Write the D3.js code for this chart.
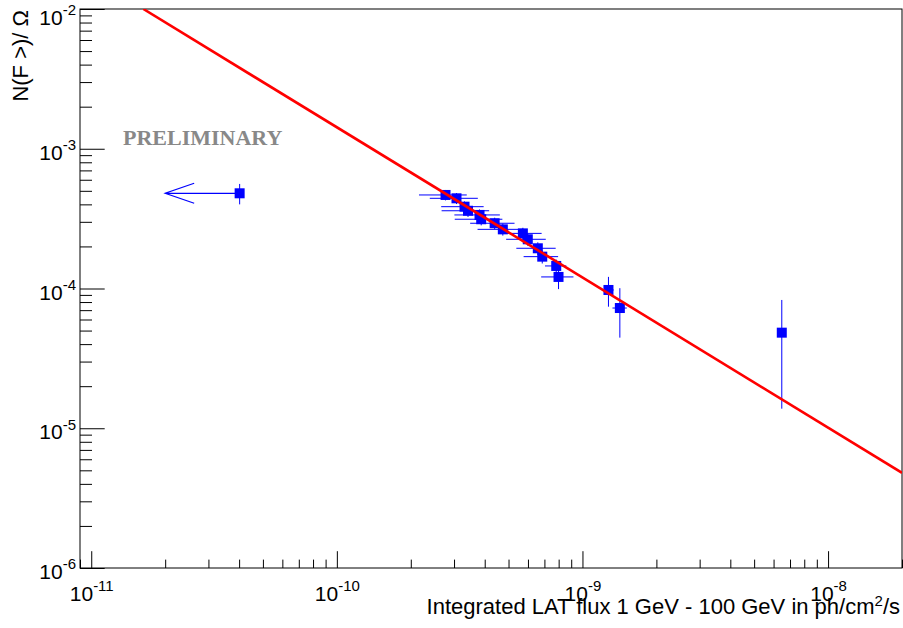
<!DOCTYPE html>
<html>
<head>
<meta charset="utf-8">
<script src="https://cdn.jsdelivr.net/npm/d3@7"></script>
<style>
  body { margin: 0; background: #fff; }
  text { font-family: 'Liberation Sans', Arial, sans-serif; }
  text.stamp { font-family: 'Liberation Serif', 'Times New Roman', serif; }
</style>
</head>
<body>
<div id="chart"></div>
<script>
// measured sources: integrated flux (ph/cm2/s) and N(>F)/Omega
let flux = [2.77e-10, 3.07e-10, 3.31e-10, 3.42e-10, 3.81e-10, 3.87e-10, 4.39e-10,
  4.74e-10, 5.72e-10, 5.99e-10, 6.58e-10, 6.86e-10, 7.82e-10, 7.99e-10,
  1.276e-9, 1.42e-9, 6.48e-9]
let density = [4.67e-4, 4.42e-4, 3.85e-4, 3.60e-4, 3.36e-4, 3.13e-4, 2.93e-4,
  2.65e-4, 2.48e-4, 2.25e-4, 1.94e-4, 1.69e-4, 1.45e-4, 1.21e-4,
  9.76e-5, 7.25e-5, 4.83e-5]
let fluxErr = [6.1e-11, 6.8e-11, 6.5e-11, 7.5e-11, 8.0e-11, 8.5e-11, 9.0e-11,
  1.0e-10, 1.1e-10, 1.1e-10, 1.2e-10, 1.1e-10, 7.8e-11, 1.2e-10,
  6.5e-11, 9.5e-11, 0]
let densityErr = [4.0e-5, 4.0e-5, 3.5e-5, 3.5e-5, 3.2e-5, 3.0e-5, 2.8e-5,
  2.6e-5, 2.4e-5, 2.3e-5, 2.0e-5, 1.8e-5, 1.6e-5, 2.2e-5,
  2.35e-5, 2.8e-5, 3.45e-5]

// upper limit point
let ulFlux = [4.02e-11]
let ulDensity = [4.8e-4]
let ulDensityErr = [8.0e-5]
let ulArrowTip = [2.0e-11]

// power-law fit, end points of the straight line in log-log
let fitFlux = [1.63e-11, 2.0e-8]
let fitDensity = [1.0e-2, 4.8e-6]

let xMajor = [1e-11, 1e-10, 1e-9, 1e-8]
let xMajorExp = ['-11', '-10', '-9', '-8']
let yMajor = [1e-6, 1e-5, 1e-4, 1e-3, 1e-2]
let yMajorExp = ['-6', '-5', '-4', '-3', '-2']

let margin = { top: 9, left: 80, right: 1, bottom: 60 }
let width = 903 - margin.left - margin.right
let height = 628 - margin.top - margin.bottom

let svg = d3
  .select('#chart')
  .append('svg')
  .attr('width', 903)
  .attr('height', 628)
  .append('g')
  .attr('transform', 'translate(' + margin.left + ',' + margin.top + ')')

let xPositionScale = d3.scaleLog().domain([9e-12, 2e-8]).range([0, width])
let yPositionScale = d3.scaleLog().domain([1e-6, 1e-2]).range([height, 0])

svg
  .append('clipPath')
  .attr('id', 'frame-clip')
  .append('rect')
  .attr('width', width)
  .attr('height', height)

// minor ticks
let xMinor = xPositionScale.ticks().filter(d => xMajor.indexOf(d) === -1)
let yMinor = yPositionScale.ticks().filter(d => yMajor.indexOf(d) === -1)

svg
  .append('g')
  .attr('class', 'axis x-minor')
  .attr('transform', 'translate(0,' + height + ')')
  .call(d3.axisBottom(xPositionScale).tickValues(xMinor).tickSize(-8.4).tickFormat(''))

svg
  .append('g')
  .attr('class', 'axis y-minor')
  .call(d3.axisLeft(yPositionScale).tickValues(yMinor).tickSize(-12).tickFormat(''))

// major ticks with labels
let xAxis = d3
  .axisBottom(xPositionScale)
  .tickValues(xMajor)
  .tickSize(-16.8)
  .tickPadding(18)
  .tickFormat('')
svg
  .append('g')
  .attr('class', 'axis x-axis')
  .attr('transform', 'translate(0,' + height + ')')
  .call(xAxis)

let yAxis = d3
  .axisLeft(yPositionScale)
  .tickValues(yMajor)
  .tickSize(-24.7)
  .tickPadding(4)
  .tickFormat('')
svg
  .append('g')
  .attr('class', 'axis y-axis')
  .call(yAxis)

svg.selectAll('.axis .domain').remove()
svg.selectAll('.axis line').attr('stroke', '#000')

function powerLabel(sel, exps) {
  sel.each(function(d, i) {
    let t = d3.select(this)
    t.text(null)
      .attr('fill', '#000')
      .attr('font-size', 21)
    t.append('tspan').text('10')
    t.append('tspan')
      .attr('font-size', 15)
      .attr('dy', '-0.65em')
      .text(exps[i])
  })
}
svg.selectAll('.x-axis .tick text').call(powerLabel, xMajorExp).attr('dy', '0.71em')
svg
  .selectAll('.y-axis .tick text')
  .call(powerLabel, yMajorExp)
  .attr('dy', d => (d === 1e-2 ? '0.72em' : '0.5em'))

// frame
svg
  .append('rect')
  .attr('width', width)
  .attr('height', height)
  .attr('fill', 'none')
  .attr('stroke', '#000')
  .attr('stroke-width', 1)

// error bars
let points = flux.map((f, i) => ({
  x: f,
  y: density[i],
  ex: fluxErr[i],
  ey: densityErr[i]
}))

svg
  .selectAll('.x-err')
  .data(points.filter(d => d.ex > 0))
  .enter()
  .append('line')
  .attr('class', 'x-err')
  .attr('x1', d => xPositionScale(d.x - d.ex))
  .attr('x2', d => xPositionScale(d.x + d.ex))
  .attr('y1', d => yPositionScale(d.y))
  .attr('y2', d => yPositionScale(d.y))
  .attr('stroke', '#0000ff')
  .attr('stroke-width', 1)

svg
  .selectAll('.y-err')
  .data(points)
  .enter()
  .append('line')
  .attr('class', 'y-err')
  .attr('x1', d => xPositionScale(d.x))
  .attr('x2', d => xPositionScale(d.x))
  .attr('y1', d => yPositionScale(d.y - d.ey))
  .attr('y2', d => yPositionScale(d.y + d.ey))
  .attr('stroke', '#0000ff')
  .attr('stroke-width', 1)

svg
  .selectAll('.point')
  .data(points)
  .enter()
  .append('rect')
  .attr('class', 'point')
  .attr('x', d => xPositionScale(d.x) - 5)
  .attr('y', d => yPositionScale(d.y) - 5)
  .attr('width', 10)
  .attr('height', 10)
  .attr('fill', '#0000ff')

// upper limit with arrow
let ul = ulFlux.map((f, i) => ({
  x: f,
  y: ulDensity[i],
  ey: ulDensityErr[i],
  tip: ulArrowTip[i]
}))

let ulG = svg
  .selectAll('.upper-limit')
  .data(ul)
  .enter()
  .append('g')
  .attr('class', 'upper-limit')

ulG
  .append('line')
  .attr('x1', d => xPositionScale(d.x))
  .attr('x2', d => xPositionScale(d.x))
  .attr('y1', d => yPositionScale(d.y - d.ey))
  .attr('y2', d => yPositionScale(d.y + d.ey))
  .attr('stroke', '#0000ff')

ulG
  .append('path')
  .attr('d', d => {
    let tx = xPositionScale(d.tip)
    let ty = yPositionScale(d.y)
    return 'M' + xPositionScale(d.x) + ',' + ty + 'L' + tx + ',' + ty +
      'M' + (tx + 29) + ',' + (ty - 10) + 'L' + tx + ',' + ty + 'L' + (tx + 29) + ',' + (ty + 10)
  })
  .attr('fill', 'none')
  .attr('stroke', '#0000ff')
  .attr('stroke-width', 1.2)

ulG
  .append('rect')
  .attr('x', d => xPositionScale(d.x) - 5)
  .attr('y', d => yPositionScale(d.y) - 5)
  .attr('width', 10)
  .attr('height', 10)
  .attr('fill', '#0000ff')

// fit line
let fitLine = d3
  .line()
  .x(d => xPositionScale(d[0]))
  .y(d => yPositionScale(d[1]))

svg
  .append('path')
  .datum(fitFlux.map((f, i) => [f, fitDensity[i]]))
  .attr('class', 'fit-line')
  .attr('d', fitLine)
  .attr('clip-path', 'url(#frame-clip)')
  .attr('fill', 'none')
  .attr('stroke', '#ff0000')
  .attr('stroke-width', 2.6)

// preliminary stamp
svg
  .append('text')
  .attr('class', 'stamp')
  .attr('x', 123 - margin.left)
  .attr('y', 145 - margin.top)
  .attr('font-weight', 'bold')
  .attr('font-size', 22)
  .attr('fill', '#888888')
  .text('PRELIMINARY')

// axis titles
let xTitle = svg
  .append('text')
  .attr('x', width - 2)
  .attr('y', 614 - margin.top)
  .attr('text-anchor', 'end')
  .attr('font-size', 22)
  .attr('fill', '#000')
xTitle.append('tspan').text('Integrated LAT flux 1 GeV - 100 GeV in ph/cm')
xTitle.append('tspan').attr('font-size', 15).attr('dy', '-0.55em').text('2')
xTitle.append('tspan').attr('dy', '0.37em').text('/s')

svg
  .append('text')
  .attr('transform', 'translate(' + (28 - margin.left) + ',' + (10 - margin.top) + ') rotate(-90)')
  .attr('text-anchor', 'end')
  .attr('font-size', 22)
  .attr('fill', '#000')
  .text('N(F >)/ \u03a9')
</script>
</body>
</html>
